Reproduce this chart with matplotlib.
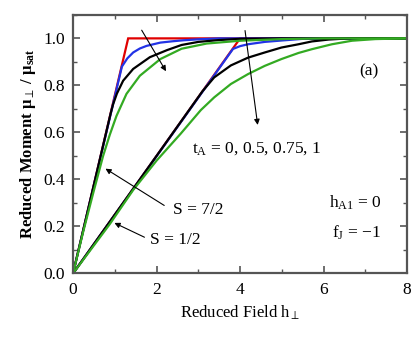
import matplotlib
matplotlib.use("Agg")
import matplotlib.pyplot as plt
from matplotlib.ticker import MultipleLocator, FormatStrFormatter

plt.rcParams["font.family"] = ["Liberation Serif", "DejaVu Serif"]
plt.rcParams["mathtext.fontset"] = "custom"
plt.rcParams["mathtext.rm"] = "Liberation Serif"
plt.rcParams["mathtext.it"] = "Liberation Serif:italic"
plt.rcParams["mathtext.bf"] = "Liberation Serif:bold"

# S = 7/2 curves (t_A = 0, 0.5, 0.75, 1)
h72_red = [0.0, 1.32, 8.0]
m72_red = [0.0, 1.0, 1.0]
h72_blue = [0.0, 1.17, 1.3, 1.44, 1.6, 1.76, 2.09, 2.4, 2.65, 3.0, 3.5, 8.0]
m72_blue = [0.0, 0.88, 0.915, 0.94, 0.957, 0.968, 0.982, 0.988, 0.992, 0.996, 1.0, 1.0]
h72_black = [0.0, 0.9, 0.96, 1.05, 1.2, 1.44, 1.84, 2.25, 2.6, 3.0, 3.5, 4.0, 5.0, 8.0]
m72_black = [0.0, 0.68, 0.72, 0.765, 0.82, 0.87, 0.92, 0.95, 0.972, 0.985, 0.993, 0.998, 1.0, 1.0]
h72_green = [0.0, 0.24, 0.48, 0.72, 0.88, 1.04, 1.28, 1.6, 2.09, 2.6, 3.2, 4.0, 5.0, 6.0, 8.0]
m72_green = [0.0, 0.175, 0.34, 0.5, 0.59, 0.67, 0.764, 0.841, 0.912, 0.956, 0.978, 0.99, 0.997, 1.0, 1.0]

# S = 1/2 curves (t_A = 0, 0.5, 0.75, 1)
h12_red = [0.0, 4.0, 8.0]
m12_red = [0.0, 1.0, 1.0]
h12_blue = [0.0, 3.83, 4.0, 4.19, 4.59, 5.0, 5.5, 8.0]
m12_blue = [0.0, 0.955, 0.967, 0.975, 0.985, 0.991, 0.998, 1.0]
h12_black = [0.0, 3.1, 3.38, 3.78, 4.19, 4.59, 4.99, 5.4, 5.72, 6.12, 6.6, 8.0]
m12_black = [0.0, 0.775, 0.834, 0.885, 0.918, 0.94, 0.961, 0.975, 0.987, 0.995, 1.0, 1.0]
h12_green = [0.0, 0.88, 1.44, 2.0, 2.58, 3.06, 3.38, 3.78, 4.19, 4.59, 4.99, 5.4, 5.72, 6.2, 6.68, 7.24, 8.0]
m12_green = [0.0, 0.21, 0.355, 0.48, 0.595, 0.695, 0.749, 0.806, 0.848, 0.883, 0.912, 0.938, 0.954, 0.975, 0.99, 0.997, 1.0]

fig = plt.figure(figsize=(4.15, 3.38), dpi=100)
ax = fig.add_axes([0.176, 0.191, 0.805, 0.765])

RED, BLUE, GREEN = "#e00000", "#2233e6", "#33aa22"
lw = 1.6

# draw order: red underneath, then blue, black, green on top
for h, m, c in [(h12_red, m12_red, RED), (h72_red, m72_red, RED),
                (h12_blue, m12_blue, BLUE), (h72_blue, m72_blue, BLUE),
                (h12_black, m12_black, "black"), (h72_black, m72_black, "black"),
                (h12_green, m12_green, GREEN), (h72_green, m72_green, GREEN)]:
    ax.plot(h, m, color=c, lw=lw, solid_joinstyle="miter")

ax.set_xlim(0, 8)
ax.set_ylim(0, 1.1)
ax.xaxis.set_major_locator(MultipleLocator(2))
ax.xaxis.set_minor_locator(MultipleLocator(1))
ax.yaxis.set_major_locator(MultipleLocator(0.2))
ax.yaxis.set_minor_locator(MultipleLocator(0.1))
ax.yaxis.set_major_formatter(FormatStrFormatter("%.1f"))
ax.tick_params(which="both", direction="in", top=True, right=True,
               color="#555555", labelsize=12.5, pad=6)
ax.tick_params(which="major", length=5, width=1.2)
ax.tick_params(which="minor", length=3, width=1.0)
for s in ax.spines.values():
    s.set_color("#555555")
    s.set_linewidth(1.6)

ax.set_xlabel(r"Reduced Field h$_\perp$", fontsize=12, labelpad=4)
ax.set_ylabel(r"Reduced Moment $\mathbf{\mu}_{\perp}$ / $\mathbf{\mu}_{\mathbf{sat}}$",
              fontsize=12, fontweight="bold", labelpad=4)

arw = dict(arrowstyle="-|>", color="black", lw=0.8, mutation_scale=8)
ax.annotate("", xy=(2.26, 0.85), xytext=(1.61, 1.045), arrowprops=arw)
ax.annotate("", xy=(4.43, 0.62), xytext=(4.11, 1.045), arrowprops=arw)
ax.annotate("", xy=(0.72, 0.452), xytext=(2.24, 0.283), arrowprops=arw)
ax.annotate("", xy=(0.93, 0.22), xytext=(1.77, 0.149), arrowprops=arw)

ax.text(2.85, 0.53, r"t$_{\rm A}$ = 0, 0.5, 0.75, 1", fontsize=12.5, va="center")
ax.text(2.4, 0.27, "S = 7/2", fontsize=12.5, va="center")
ax.text(1.85, 0.142, "S = 1/2", fontsize=12.5, va="center")
ax.text(7.09, 0.86, "(a)", fontsize=12.5, ha="center", va="center")
ax.text(6.13, 0.30, r"h$_{\rm A1}$ = 0", fontsize=12.5, va="center")
ax.text(6.2, 0.175, r"f$_{\rm J}$ = $-$1", fontsize=12.5, va="center")

fig.savefig("out.png", dpi=100)
